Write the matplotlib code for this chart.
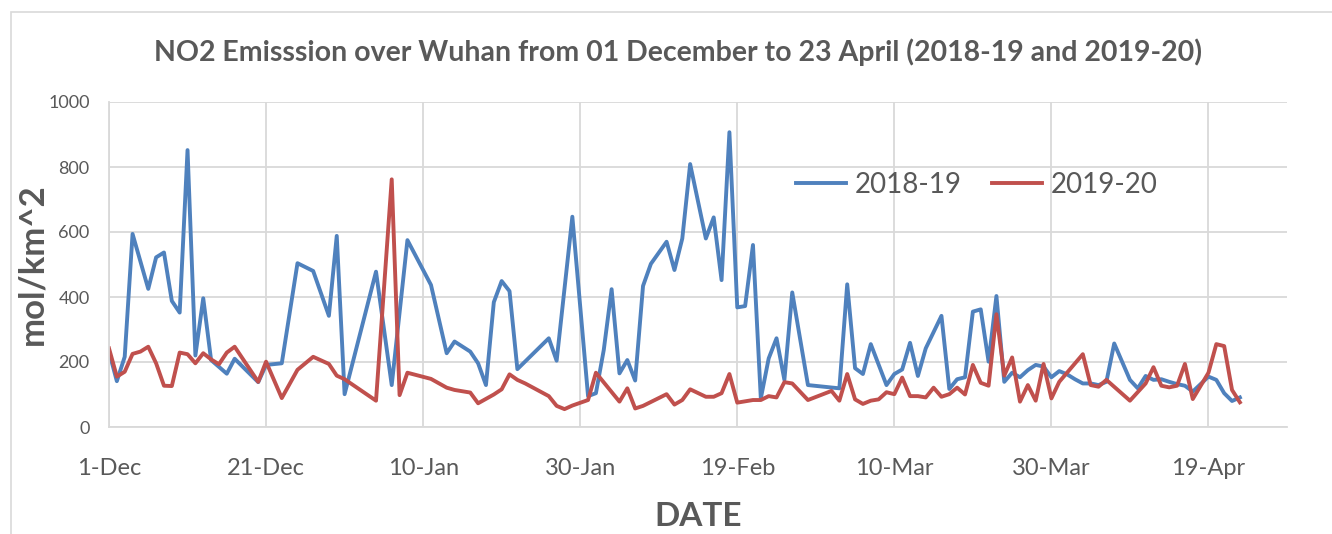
import matplotlib
matplotlib.use("Agg")
import matplotlib.pyplot as plt
from matplotlib.patches import Rectangle
from datetime import datetime, timedelta

# Data (days counted from 1 December)
START = datetime(2019, 12, 1)

days_1819 = [0, 1, 2, 3, 5, 6, 7, 8, 9, 10, 11, 12, 13, 15, 16, 19, 20, 22, 24, 26,
             28, 29, 30, 34, 36, 38, 41, 43, 44, 46, 47, 48, 49, 50, 51, 52, 56, 57, 59, 61,
             62, 63, 64, 65, 66, 67, 68, 69, 71, 72, 73, 74, 76, 77, 78, 79, 80, 81, 82, 83,
             84, 85, 86, 87, 89, 93, 94, 95, 96, 97, 99, 100, 101, 102, 103, 104, 106, 107, 108, 109,
             110, 111, 112, 113, 114, 115, 116, 117, 118, 119, 120, 121, 122, 123, 124, 125, 126, 127, 128, 130,
             131, 132, 133, 134, 135, 136, 137, 138, 140, 141, 142, 143, 144]
no2_1819 = [232, 141, 216, 594, 425, 522, 537, 388, 352, 852, 220, 396, 206, 164, 210, 138, 191, 196, 504, 480,
            342, 588, 101, 478, 129, 575, 437, 227, 263, 232, 196, 129, 384, 449, 418, 178, 273, 204, 647, 95,
            104, 237, 424, 165, 206, 143, 434, 502, 570, 483, 580, 809, 580, 645, 452, 907, 368, 372, 560, 88,
            211, 273, 145, 414, 129, 119, 439, 181, 163, 255, 129, 163, 177, 259, 157, 242, 342, 117, 147, 153,
            355, 362, 201, 403, 139, 167, 153, 175, 191, 186, 153, 172, 162, 147, 134, 134, 129, 139, 257, 145,
            119, 157, 145, 147, 139, 132, 127, 109, 155, 145, 104, 80, 91]

days_1920 = [0, 1, 2, 3, 4, 5, 6, 7, 8, 9, 10, 11, 12, 13, 14, 15, 16, 19, 20, 22,
             24, 26, 28, 29, 30, 34, 36, 37, 38, 41, 43, 44, 46, 47, 49, 50, 51, 52, 53, 56,
             57, 58, 59, 61, 62, 65, 66, 67, 68, 71, 72, 73, 74, 76, 77, 78, 79, 80, 82, 83,
             84, 85, 86, 87, 89, 92, 93, 94, 95, 96, 97, 98, 99, 100, 101, 102, 103, 104, 105, 106,
             107, 108, 109, 110, 111, 112, 113, 114, 115, 116, 117, 118, 119, 120, 121, 124, 125, 126, 127, 130,
             132, 133, 134, 135, 136, 137, 138, 140, 141, 142, 143, 144]
no2_1920 = [242, 155, 170, 225, 232, 247, 196, 127, 126, 229, 224, 196, 227, 208, 193, 229, 247, 139, 201, 89,
            176, 216, 194, 158, 147, 81, 762, 98, 167, 148, 121, 114, 106, 73, 100, 116, 162, 145, 134, 95,
            65, 55, 66, 83, 167, 78, 119, 57, 65, 101, 69, 83, 116, 93, 93, 104, 163, 75, 83, 83,
            95, 91, 138, 134, 83, 111, 81, 163, 85, 71, 81, 85, 107, 101, 152, 95, 95, 91, 121, 93,
            101, 121, 100, 191, 136, 127, 347, 158, 214, 78, 129, 81, 194, 88, 139, 224, 129, 124, 145, 81,
            134, 184, 127, 122, 127, 194, 86, 167, 255, 249, 114, 76]

tick_days = [0, 20, 40, 60, 80, 100, 120, 140]
tick_labels = ["1-Dec", "21-Dec", "10-Jan", "30-Jan", "19-Feb", "10-Mar", "30-Mar", "19-Apr"]
y_ticks = [0, 200, 400, 600, 800, 1000]

TEXT = "#595959"
GRID = "#D9D9D9"


def to_dates(days):
    return [START + timedelta(days=d) for d in days]


def main():
    plt.rcParams["font.family"] = ["Lato", "DejaVu Sans"]
    fig = plt.figure(figsize=(13.32, 5.34), dpi=100)
    ax = fig.add_axes([109 / 1332, 1 - 427 / 534, (1287 - 109) / 1332, (427 - 102) / 534])

    # chart border
    fig.patches.append(Rectangle((11 / 1332, -0.1), 1.2, 1 - 12 / 534 + 0.1,
                                 transform=fig.transFigure, fill=False,
                                 edgecolor=GRID, linewidth=1.2))

    ax.plot(to_dates(days_1819), no2_1819, color="#4F81BD", linewidth=2.8, label="2018-19",
            solid_joinstyle="round")
    ax.plot(to_dates(days_1920), no2_1920, color="#C0504D", linewidth=2.8, label="2019-20",
            solid_joinstyle="round")

    ax.set_xlim(START, START + timedelta(days=150))
    ax.set_ylim(0, 1000)
    ax.set_xticks(to_dates(tick_days))
    ax.set_xticklabels(tick_labels)
    ax.set_yticks(y_ticks)

    ax.grid(True, color=GRID, linewidth=1.3)
    ax.set_axisbelow(True)
    for side in ["top", "right"]:
        ax.spines[side].set_visible(False)
    for side in ["left", "bottom"]:
        ax.spines[side].set_color(GRID)
        ax.spines[side].set_linewidth(1.3)

    ax.tick_params(axis="x", length=0, pad=22, labelsize=17, labelcolor=TEXT)
    ax.tick_params(axis="y", length=0, pad=14, labelsize=13, labelcolor=TEXT)

    ax.set_xlabel("DATE", fontsize=24, fontweight="bold", color=TEXT, labelpad=17)
    ax.set_ylabel("mol/km^2", fontsize=25, fontweight="bold", color=TEXT, labelpad=0)
    fig.text(678 / 1332, 1 - 52 / 534, "NO2 Emisssion over Wuhan from 01 December to 23 April (2018-19 and 2019-20)",
             ha="center", va="center", fontsize=20.5, fontweight="bold", color=TEXT)

    leg = ax.legend(loc="center", bbox_to_anchor=(977 / 1332, 1 - 185 / 534),
                    bbox_transform=fig.transFigure, ncol=2, frameon=False,
                    fontsize=20, handlelength=1.8, handletextpad=0.3, columnspacing=1.1)
    for t in leg.get_texts():
        t.set_color(TEXT)

    fig.savefig("out.png", dpi=100)


if __name__ == "__main__":
    main()
